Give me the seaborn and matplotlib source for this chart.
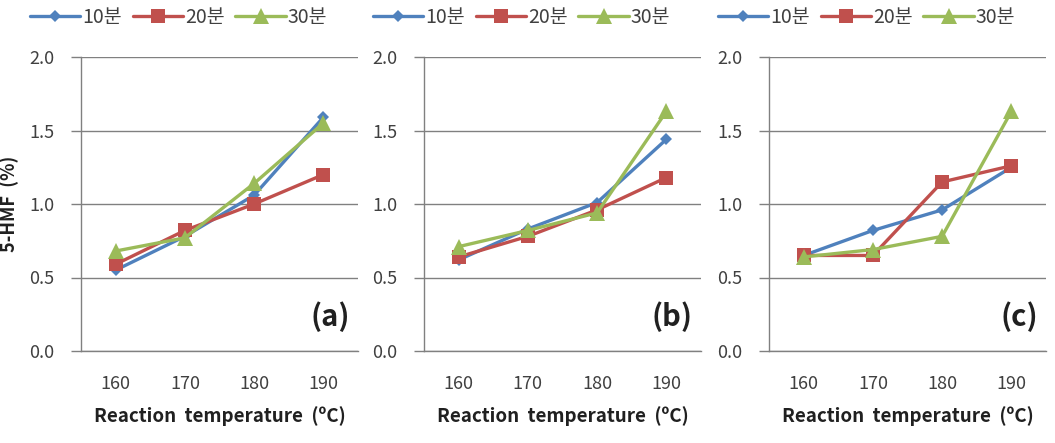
import numpy as np
import pandas as pd
import matplotlib
matplotlib.use("Agg")
import matplotlib.pyplot as plt
import seaborn as sns

temps = ["160", "170", "180", "190"]
series_names = ["10분", "20분", "30분"]

a_10 = [0.55, 0.78, 1.06, 1.59]
a_20 = [0.59, 0.82, 1.00, 1.20]
a_30 = [0.68, 0.77, 1.14, 1.55]

b_10 = [0.62, 0.83, 1.01, 1.44]
b_20 = [0.64, 0.78, 0.96, 1.18]
b_30 = [0.71, 0.82, 0.94, 1.63]

c_10 = [0.65, 0.82, 0.96, 1.25]
c_20 = [0.65, 0.65, 1.15, 1.26]
c_30 = [0.64, 0.69, 0.78, 1.63]

panels = {"(a)": [a_10, a_20, a_30], "(b)": [b_10, b_20, b_30], "(c)": [c_10, c_20, c_30]}

colors = ["#4F81BD", "#C0504D", "#9BBB59"]
markers = ["D", "s", "^"]
msizes = [6.5, 10, 11]

sns.set_style("white")
plt.rcParams["font.family"] = ["Noto Sans CJK KR", "DejaVu Sans"]

fig = plt.figure(figsize=(10.55, 4.43), dpi=100)
lefts = [81, 424, 769]
W, H = 1055, 443
axw = 277 / W
bottom = 1 - 351 / H
axh = (351 - 57) / H

for i, (label, vals) in enumerate(panels.items()):
    ax = fig.add_axes([lefts[i] / W, bottom, axw, axh])
    rows = []
    for name, v in zip(series_names, vals):
        for t, y in zip(temps, v):
            rows.append({"temp": t, "value": y, "series": name})
    df = pd.DataFrame(rows)
    for name, c, m, ms in zip(series_names, colors, markers, msizes):
        sub = df[df["series"] == name]
        sns.lineplot(data=sub, x="temp", y="value", ax=ax, color=c, marker=m,
                     markersize=ms, markeredgewidth=0, linewidth=2.4, label=name,
                     sort=False)
    ax.set_xlim(-0.5, 3.5)
    ax.set_ylim(0, 2.0)
    ax.set_yticks([0, 0.5, 1.0, 1.5, 2.0])
    ax.set_yticklabels(["0.0", "0.5", "1.0", "1.5", "2.0"])
    ax.set_xticks(range(4))
    ax.set_xticklabels(temps)
    ax.set_xticks([-0.5, 0.5, 1.5, 2.5, 3.5], minor=True)
    ax.tick_params(axis="x", which="major", length=0, pad=17, labelsize=13, labelcolor="#404040")
    ax.tick_params(axis="x", which="minor", length=5, color="#808080", width=1)
    ax.tick_params(axis="y", which="major", length=7, color="#808080", width=1,
                   labelsize=13, labelcolor="#404040", pad=12, left=True)
    ax.yaxis.grid(True, color="#808080", linewidth=1)
    ax.xaxis.grid(False)
    for s in ["top", "right"]:
        ax.spines[s].set_visible(False)
    for s in ["left", "bottom"]:
        ax.spines[s].set_color("#808080")
        ax.spines[s].set_linewidth(1)
    ax.set_xlabel("Reaction  temperature  (ºC)", fontsize=13.5, fontweight="bold", labelpad=10, color="#202020")
    if i == 0:
        ax.set_ylabel("5-HMF  (%)", fontsize=13, fontweight="bold", color="#202020")
        ax.yaxis.set_label_coords(-0.222, 0.5)
    else:
        ax.set_ylabel("")
    ax.text(0.97, 0.115, label, transform=ax.transAxes, ha="right", va="center",
            fontsize=21, fontweight="bold", color="#202020")
    leg = ax.legend(loc="center left", bbox_to_anchor=(-0.185, 1.135), ncol=3, frameon=False,
                    fontsize=14, handlelength=2.6, handletextpad=0.1, columnspacing=0.55,
                    borderaxespad=0, borderpad=0)
    for t in leg.get_texts():
        t.set_color("#404040")

fig.savefig("out.png", dpi=100)
